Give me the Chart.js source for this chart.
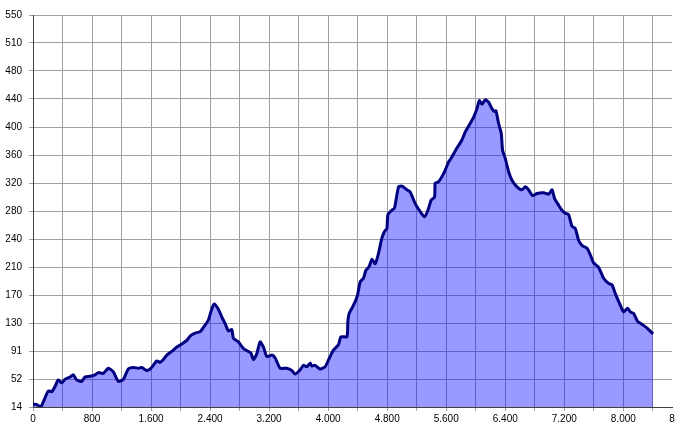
<!DOCTYPE html>
<html>
<head>
<meta charset="utf-8">
<script src="https://cdn.jsdelivr.net/npm/chart.js@4"></script>
<style>
  html, body { margin: 0; padding: 0; background: #fff; }
  #wrap { width: 677px; height: 430px; }
</style>
</head>
<body>
<div id="wrap"><canvas id="profileChart" width="677" height="430"></canvas></div>
<script>
// distance (m) and elevation (m)
const distances = [0, 58, 104, 140, 207, 254, 298, 343, 389, 434, 502, 546, 593, 660, 705, 773, 841, 885, 953, 1021,
    1089, 1157, 1225, 1292, 1360, 1428, 1474, 1542, 1587, 1631, 1677, 1722, 1767, 1813, 1881, 1949, 2016, 2084, 2129, 2197,
    2265, 2332, 2377, 2423, 2454, 2505, 2559, 2604, 2648, 2694, 2716, 2784, 2852, 2919, 2952, 2987, 3033, 3078, 3123, 3169,
    3237, 3282, 3349, 3440, 3508, 3553, 3621, 3665, 3711, 3756, 3779, 3824, 3892, 3959, 4004, 4072, 4140, 4172, 4254, 4267,
    4285, 4322, 4366, 4398, 4434, 4479, 4512, 4556, 4593, 4638, 4682, 4728, 4764, 4796, 4810, 4864, 4899, 4954, 5000, 5067,
    5112, 5180, 5248, 5306, 5352, 5397, 5442, 5451, 5496, 5542, 5587, 5632, 5677, 5745, 5813, 5858, 5926, 5970, 6017, 6048,
    6084, 6129, 6174, 6220, 6255, 6274, 6309, 6346, 6364, 6400, 6445, 6491, 6559, 6627, 6672, 6716, 6771, 6830, 6920, 6988,
    7034, 7069, 7123, 7169, 7214, 7259, 7305, 7350, 7394, 7440, 7508, 7553, 7598, 7665, 7733, 7801, 7847, 7892, 7960, 8004,
    8059, 8095, 8140, 8194, 8254, 8322, 8403];
const elevations = [18, 17, 14, 21, 36, 35, 42, 51, 47, 52, 55, 58, 51, 49, 55, 56, 58, 61, 60, 67,
    62, 49, 52, 66, 68, 67, 68, 64, 66, 71, 77, 75, 79, 85, 90, 96, 100, 105, 111, 115,
    117, 126, 133, 148, 155, 149, 137, 128, 118, 120, 108, 103, 94, 90, 88, 79, 87, 103, 96, 83,
    85, 81, 67, 67, 64, 59, 65, 71, 69, 74, 70, 71, 66, 69, 78, 92, 99, 110, 110, 131,
    142, 149, 158, 167, 185, 190, 201, 206, 216, 210, 224, 245, 254, 258, 277, 283, 286, 315, 316, 311,
    308, 292, 281, 274, 283, 297, 301, 320, 322, 329, 338, 349, 356, 368, 379, 390, 402, 410, 422, 433,
    428, 434, 431, 422, 418, 419, 402, 388, 365, 354, 336, 324, 315, 311, 315, 311, 303, 306, 307, 305,
    311, 299, 290, 283, 279, 277, 261, 258, 242, 235, 231, 222, 211, 205, 190, 183, 181, 169, 153, 144,
    149, 144, 142, 131, 127, 122, 114];
const yTickLabels = ["14", "52", "91", "130", "170", "210", "240", "280", "320", "360", "400", "440", "480", "510", "550"];
const xMax = 8660;
const xStep = 400;
const yMin = 14;
const yMax = 550;

const points = distances.map((d, i) => ({ x: d, y: elevations[i] }));

function dotted(v) {
    return String(v).replace(/\B(?=(\d{3})+(?!\d))/g, ".");
}

const ctx = document.getElementById("profileChart");

new Chart(ctx, {
    type: "line",
    data: {
        datasets: [
            {
                data: points,
                borderColor: "#000080",
                borderWidth: 3,
                backgroundColor: "rgba(0, 0, 255, 0.4)",
                fill: "start",
                pointRadius: 0,
                tension: 0.2,
            },
        ],
    },
    options: {
        responsive: false,
        animation: false,
        layout: { padding: { top: 15, right: 5, left: 0, bottom: 0 } },
        scales: {
            x: {
                type: "linear",
                min: 0,
                max: xMax,
                afterBuildTicks: (scale) => {
                    const t = [];
                    for (let v = 0; v <= xMax - 100; v += xStep) t.push({ value: v });
                    t.push({ value: xMax });
                    scale.ticks = t;
                },
                afterFit: (scale) => { scale.height = 23; },
                ticks: {
                    autoSkip: false,
                    maxRotation: 0,
                    padding: 2,
                    color: "#000",
                    font: { family: "Liberation Sans", size: 10 },
                    callback: (v) => {
                        if (v === xMax) return "8";
                        return v % 800 === 0 ? dotted(v) : "";
                    },
                },
                grid: {
                    color: (c) => (c.tick && c.tick.value === xMax ? "rgba(0,0,0,0)" : "#a0a0a0"),
                    tickLength: 4,
                },
                border: { color: "#404040" },
            },
            y: {
                min: yMin,
                max: yMax,
                afterBuildTicks: (scale) => {
                    const n = yTickLabels.length - 1;
                    scale.ticks = yTickLabels.map((_, i) => ({ value: yMin + (yMax - yMin) * i / n }));
                },
                afterFit: (scale) => { scale.width = 33; },
                ticks: {
                    autoSkip: false,
                    padding: 7,
                    color: "#000",
                    font: { family: "Liberation Sans", size: 10 },
                    callback: (v, i) => yTickLabels[i],
                },
                grid: {
                    color: "#a0a0a0",
                    tickLength: 4,
                },
                border: { color: "#404040" },
            },
        },
        plugins: {
            legend: { display: false },
            tooltip: { enabled: false },
        },
    },
});
</script>
</body>
</html>
